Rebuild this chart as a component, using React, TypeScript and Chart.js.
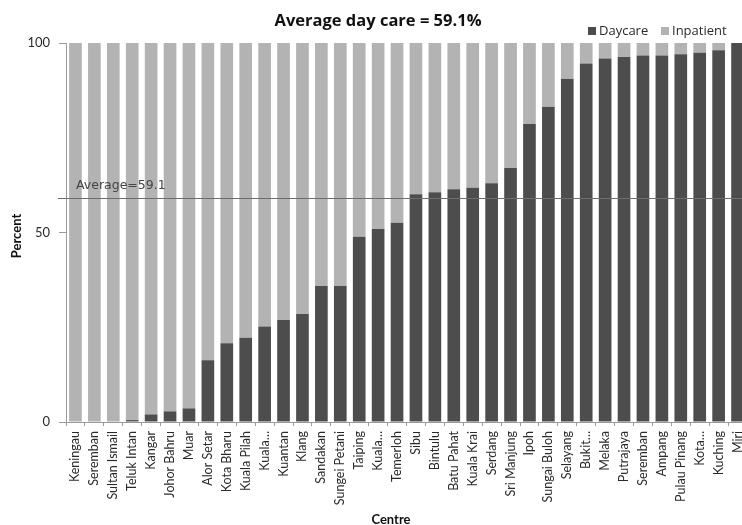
import React, { useEffect, useRef } from "react";
import { Chart, registerables } from "chart.js";

Chart.register(...registerables);

// Centres, ordered by share of day care
const centres = [
  "Keningau", "Seremban", "Sultan Ismail", "Teluk Intan", "Kangar", "Johor Bahru",
  "Muar", "Alor Setar", "Kota Bharu", "Kuala Pilah", "Kuala…", "Kuantan",
  "Klang", "Sandakan", "Sungei Petani", "Taiping", "Kuala…", "Temerloh",
  "Sibu", "Bintulu", "Batu Pahat", "Kuala Krai", "Serdang", "Sri Manjung",
  "Ipoh", "Sungai Buloh", "Selayang", "Bukit…", "Melaka", "Putrajaya",
  "Seremban", "Ampang", "Pulau Pinang", "Kota…", "Kuching", "Miri",
];

const daycare = [
  0, 0, 0, 0.5, 2.0, 2.8,
  3.6, 16.3, 20.8, 22.2, 25.2, 26.9,
  28.5, 35.9, 35.9, 48.9, 50.9, 52.6,
  60.1, 60.6, 61.4, 61.8, 63.0, 67.0,
  78.6, 83.2, 90.6, 94.6, 95.9, 96.3,
  96.7, 96.7, 97.0, 97.4, 98.1, 100,
];

const inpatient = [
  100, 100, 100, 99.5, 98.0, 97.2,
  96.4, 83.7, 79.2, 77.8, 74.8, 73.1,
  71.5, 64.1, 64.1, 51.1, 49.1, 47.4,
  39.9, 39.4, 38.6, 38.2, 37.0, 33.0,
  21.4, 16.8, 9.4, 5.4, 4.1, 3.7,
  3.3, 3.3, 3.0, 2.6, 1.9, 0,
];

const yTicks = [0, 50, 100];
const averageDaycare = 59.1;

const DARK = "#4d4d4d";
const LIGHT = "#b3b3b3";
const AXIS = "#9a9a9a";
const TEXT = "#2a2a2a";

const overlay = {
  id: "overlay",
  afterDatasetsDraw(chart: any) {
    const { ctx, chartArea, scales } = chart;
    const y = scales.y.getPixelForValue(averageDaycare);
    ctx.save();

    // average line
    ctx.strokeStyle = "#6e6e6e";
    ctx.lineWidth = 1;
    ctx.beginPath();
    ctx.moveTo(chartArea.left - 8, Math.round(y) + 0.5);
    ctx.lineTo(chartArea.right, Math.round(y) + 0.5);
    ctx.stroke();

    ctx.fillStyle = "#444444";
    ctx.font = "12.5px 'DejaVu Sans'";
    ctx.textAlign = "left";
    ctx.textBaseline = "alphabetic";
    ctx.fillText("Average=" + averageDaycare, chartArea.left + 10, y - 9);

    // title
    ctx.fillStyle = "#111111";
    ctx.font = "bold 16.5px 'Open Sans'";
    ctx.textAlign = "center";
    ctx.textBaseline = "middle";
    ctx.fillText("Average day care = " + averageDaycare + "%", 378, 21);

    // legend
    ctx.font = "13px 'Open Sans'";
    ctx.textAlign = "left";
    ctx.fillStyle = DARK;
    ctx.fillRect(588, 27, 8, 8);
    ctx.fillStyle = TEXT;
    ctx.fillText("Daycare", 599, 31);
    ctx.fillStyle = LIGHT;
    ctx.fillRect(661, 27, 8, 8);
    ctx.fillStyle = TEXT;
    ctx.fillText("Inpatient", 672, 31);

    // axis titles
    ctx.fillStyle = "#111111";
    ctx.font = "bold 13px Lato";
    ctx.textAlign = "center";
    ctx.fillText("Centre", 391, 520);
    ctx.translate(17, 236);
    ctx.rotate(-Math.PI / 2);
    ctx.fillText("Percent", 0, 0);
    ctx.restore();
  },
};

export default function App() {
  const ref = useRef<HTMLCanvasElement>(null);

  useEffect(() => {
    document.body.style.margin = "0";
    const canvas = ref.current;
    if (!canvas) return;
    const chart = new Chart(canvas, {
      type: "bar",
      data: {
        labels: centres,
        datasets: [
          {
            label: "Daycare",
            data: daycare,
            backgroundColor: DARK,
            barPercentage: 0.67,
            categoryPercentage: 1,
          },
          {
            label: "Inpatient",
            data: inpatient,
            backgroundColor: LIGHT,
            barPercentage: 0.67,
            categoryPercentage: 1,
          },
        ],
      },
      options: {
        responsive: false,
        animation: false,
        events: [],
        layout: { padding: { left: 0, right: 13, top: 43, bottom: 0 } },
        plugins: {
          legend: { display: false },
          title: { display: false },
          tooltip: { enabled: false },
        },
        scales: {
          x: {
            stacked: true,
            afterFit: (s: any) => {
              s.height = 103;
            },
            grid: {
              offset: true,
              drawOnChartArea: false,
              drawTicks: true,
              tickLength: 4,
              color: AXIS,
            },
            border: { display: true, color: AXIS },
            ticks: {
              autoSkip: false,
              minRotation: 90,
              maxRotation: 90,
              padding: 5,
              color: TEXT,
              font: { family: "Lato", size: 12.5 },
            },
          },
          y: {
            stacked: true,
            min: 0,
            max: 100,
            afterFit: (s: any) => {
              s.width = 66;
            },
            afterBuildTicks: (s: any) => {
              s.ticks = yTicks.map((v) => ({ value: v }));
            },
            grid: {
              drawOnChartArea: false,
              drawTicks: true,
              tickLength: 7,
              color: AXIS,
            },
            border: { display: true, color: AXIS },
            ticks: {
              padding: 9,
              color: TEXT,
              font: { family: "Lato", size: 13 },
            },
          },
        },
      },
      plugins: [overlay],
    });
    return () => chart.destroy();
  }, []);

  return (
    <div style={{ width: 742, height: 525, overflow: "hidden" }}>
      <canvas ref={ref} width={760} height={525} style={{ width: 760, height: 525, display: "block" }} />
    </div>
  );
}
